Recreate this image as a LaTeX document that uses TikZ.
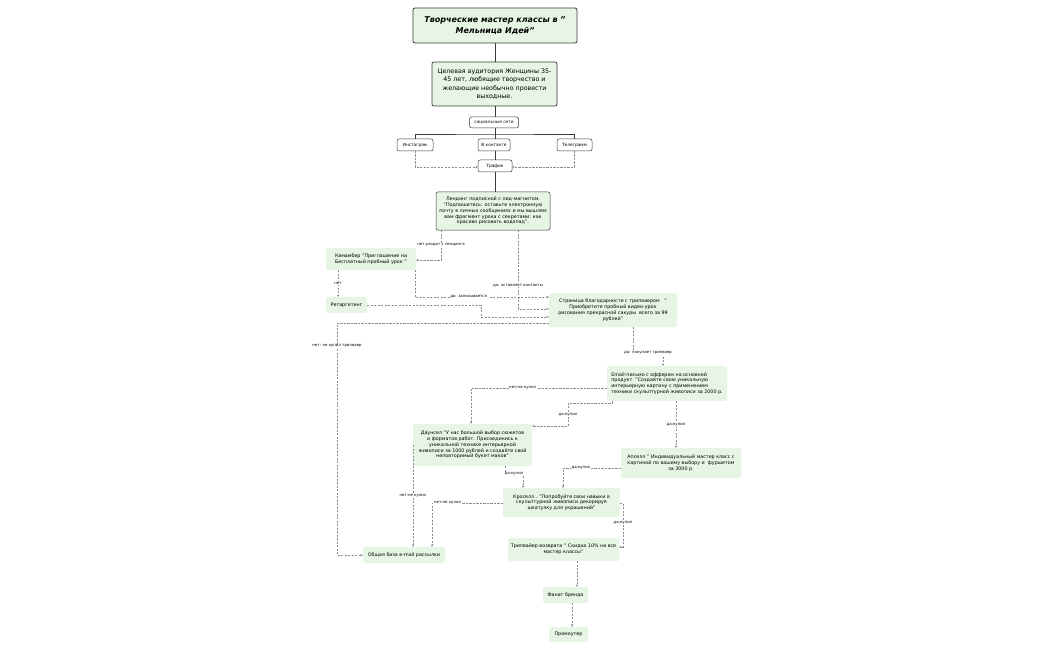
\documentclass[tikz,border=0pt]{standalone}
\usepackage{fontspec}
\setmainfont{DejaVu Sans}
\usetikzlibrary{arrows.meta,calc}
\definecolor{gfill}{HTML}{E6F5E4}
\definecolor{bord}{HTML}{3A3A3A}
\definecolor{cgray}{HTML}{8A8A98}
\tikzset{
  bx/.style={rounded corners=2pt, align=center, inner sep=0pt, outer sep=0pt},
  titlebox/.style={bx, draw=bord, line width=0.8pt, fill=gfill, font=\fontsize{8}{11.5}\selectfont\bfseries\itshape},
  audbox/.style={bx, draw=bord, line width=0.7pt, fill=gfill, font=\fontsize{6.3}{8.6}\selectfont},
  wbox/.style={bx, draw=bord, line width=0.5pt, fill=white, font=\fontsize{4.3}{5}\selectfont},
  gbox/.style={bx, fill=gfill, font=\fontsize{4.8}{5.8}\selectfont},
  lab/.style={font=\fontsize{3.9}{4.5}\selectfont, fill=white, inner sep=0.6pt},
  sl/.style={draw=bord, line width=0.7pt},
  dl/.style={draw=cgray, line width=0.55pt, dash pattern=on 2.2pt off 1.3pt, -{Stealth[length=2.6pt,width=2.2pt]}},
}
\begin{document}
\begin{tikzpicture}[x=1pt,y=-1pt]
\fill[white] (0,0) rectangle (1050,650);
\path[use as bounding box] (0,0) rectangle (1050,650);

% nodes
\node[titlebox, minimum width=164pt, minimum height=35pt] (ttl) at (495,25.5) {Творческие мастер классы в "\\Мельница Идей"};
\node[audbox, minimum width=125pt, minimum height=44pt] (aud) at (494.5,84) {Целевая аудитория Женщины 35-\\45 лет, любящие творчество и\\желающие необычно провести\\выходные.};
\node[wbox, minimum width=49pt, minimum height=11pt] (soc) at (494,122.5) {социальные сети};
\node[wbox, minimum width=36pt, minimum height=12pt] (inst) at (415,145) {Инстаграм};
\node[wbox, minimum width=32pt, minimum height=12pt] (vk) at (494,145) {В контакте};
\node[wbox, minimum width=35pt, minimum height=12pt] (tg) at (574.5,145) {Телеграмм};
\node[wbox, minimum width=34pt, minimum height=12pt] (traf) at (495,166) {Трафик};
\node[gbox, draw=bord, line width=0.5pt, minimum width=114pt, minimum height=38pt] (lnd) at (493,211) {Лендинг подписной с лид-магнитом.\\"Подпишитесь: оставьте электронную\\почту в личных сообщениях и мы вышлем\\вам фрагмент урока с секретами: как\\красиво рисовать водопад".};
\node[gbox, align=left, minimum width=90pt, minimum height=22pt] (kam) at (371,259) {Камамбер "Приглашение на\\Бесплатный пробный урок "};
\node[gbox, minimum width=41pt, minimum height=16pt] (ret) at (346.5,305) {Ретаргетинг};
\node[gbox, minimum width=128pt, minimum height=34pt] (thx) at (613,310) {Страница благодарности с трипваером \ \ "\\Приобретите пробный видео-урок\\рисования прекрасной сакуры \ всего за 99\\рублей"};
\node[gbox, align=left, minimum width=120pt, minimum height=35pt] (mail) at (667,383.5) {Email-письмо с оффером на основной\\продукт \ "Создайте свою уникальную\\интерьерную картину с применением\\техники скульптурной живописи за 2000 р.};
\node[gbox, minimum width=119pt, minimum height=42pt] (down) at (472.5,445) {Даунсел "У нас большой выбор сюжетов\\и форматов работ. Присоединись к\\уникальной технике интерьерной\\живописи за 1000 рублей и создайте свой\\неповторимый букет маков"};
\node[gbox, minimum width=120pt, minimum height=30pt] (up) at (681,463) {Апселл " Индивидуальный мастер класс с\\картиной по вашему выбору и \ фуршетом\\за 3000 р.};
\node[gbox, minimum width=117pt, minimum height=29pt] (cross) at (561.5,502.5) {Кроселл . "Попробуйте свои навыки в\\скульптурной живописи декорируя\\шкатулку для украшений"};
\node[gbox, minimum width=111pt, minimum height=23pt] (trip) at (563.5,549.5) {Трипвайер возврата " Скидка 10\% на все\\мастер классы"};
\node[gbox, minimum width=45pt, minimum height=16pt] (fan) at (565.5,595) {Фанат бренда};
\node[gbox, minimum width=39pt, minimum height=15pt] (promo) at (568.5,634.5) {Промоутер};
\node[gbox, minimum width=82pt, minimum height=16pt] (base) at (404,555) {Общая база e-mail рассылки};

% solid trunk
\coordinate (br) at (495,134);
\draw[sl] (ttl.south -| br) -- (aud.north -| br);
\draw[sl] (aud.south -| br) -- (soc.north -| br);
\draw[sl] (inst.north) |- (br) -| (tg.north);
\draw[sl] (soc.south -| br) -- (vk.north -| br);
\draw[sl] (vk.south -| br) -- (traf.north -| br);
\draw[sl] (traf.south -| br) -- (lnd.north -| br);
\draw[dl] (inst.south) |- ($(traf.west)+(0,1)$);
\draw[dl] (tg.south) |- ($(traf.east)+(0,1)$);

% dashed connectors
\draw[dl] (lnd.south -| 441,0) |- node[lab,pos=0.25]{нет:уходит с лендинга} (kam.east |- 0,260);
\draw[dl] (kam.south -| 338,0) -- node[lab]{нет} (ret.north -| 338,0);
\draw[dl] (kam.south -| 415,0) |- node[lab,pos=0.7]{да: записывается} (thx.west |- 0,297);
\draw[dl] (lnd.south -| 518,0) |- node[lab,pos=0.35]{да: оставляет контакты} (thx.west |- 0,309);
\draw[dl] (ret.east) -| (481,317) -- (thx.west |- 0,317);
\draw[dl] (thx.west |- 0,323) -| node[lab,pos=0.55]{нет: не купил трипваер} (337,555) -- (base.west);
\draw[dl] (thx.south -| 633,0) |- (648,353) node[lab]{да: покупает трипваер} -| (mail.north -| 663,0);
\draw[dl] (mail.west |- 0,388) -| node[lab,pos=0.31]{нет:не купил} (down.north -| 471,0);
\draw[dl] (mail.south -| 612,0) |- (568,403) |- node[lab,pos=0.25]{да:купил} ($(down.north east)+(0,2)$);
\draw[dl] (mail.south -| 676,0) -- node[lab]{да:купил} (up.north -| 676,0);
\draw[dl] (up.west |- 0,468) -| node[lab,pos=0.345]{да:купил} (cross.north -| 563,0);
\draw[dl] (down.south -| 505,0) |- (514,474) node[lab]{да:купил} -| (cross.north -| 523,0);
\draw[dl] (cross.west |- 0,503) -| node[lab,pos=0.39]{нет:не купил} (base.north -| 432,0);
\draw[dl] (down.west) -- node[lab]{нет:не купил} (base.north -| 413,0);
\draw[dl] (cross.east |- 0,503) -| (623,523) node[lab]{да:купил} |- (trip.east |- 0,547);
\draw[dl] (trip.south -| 577,0) -- (fan.north -| 577,0);
\draw[dl] (fan.south -| 572,0) -- (promo.north -| 572,0);
\end{tikzpicture}
\end{document}
